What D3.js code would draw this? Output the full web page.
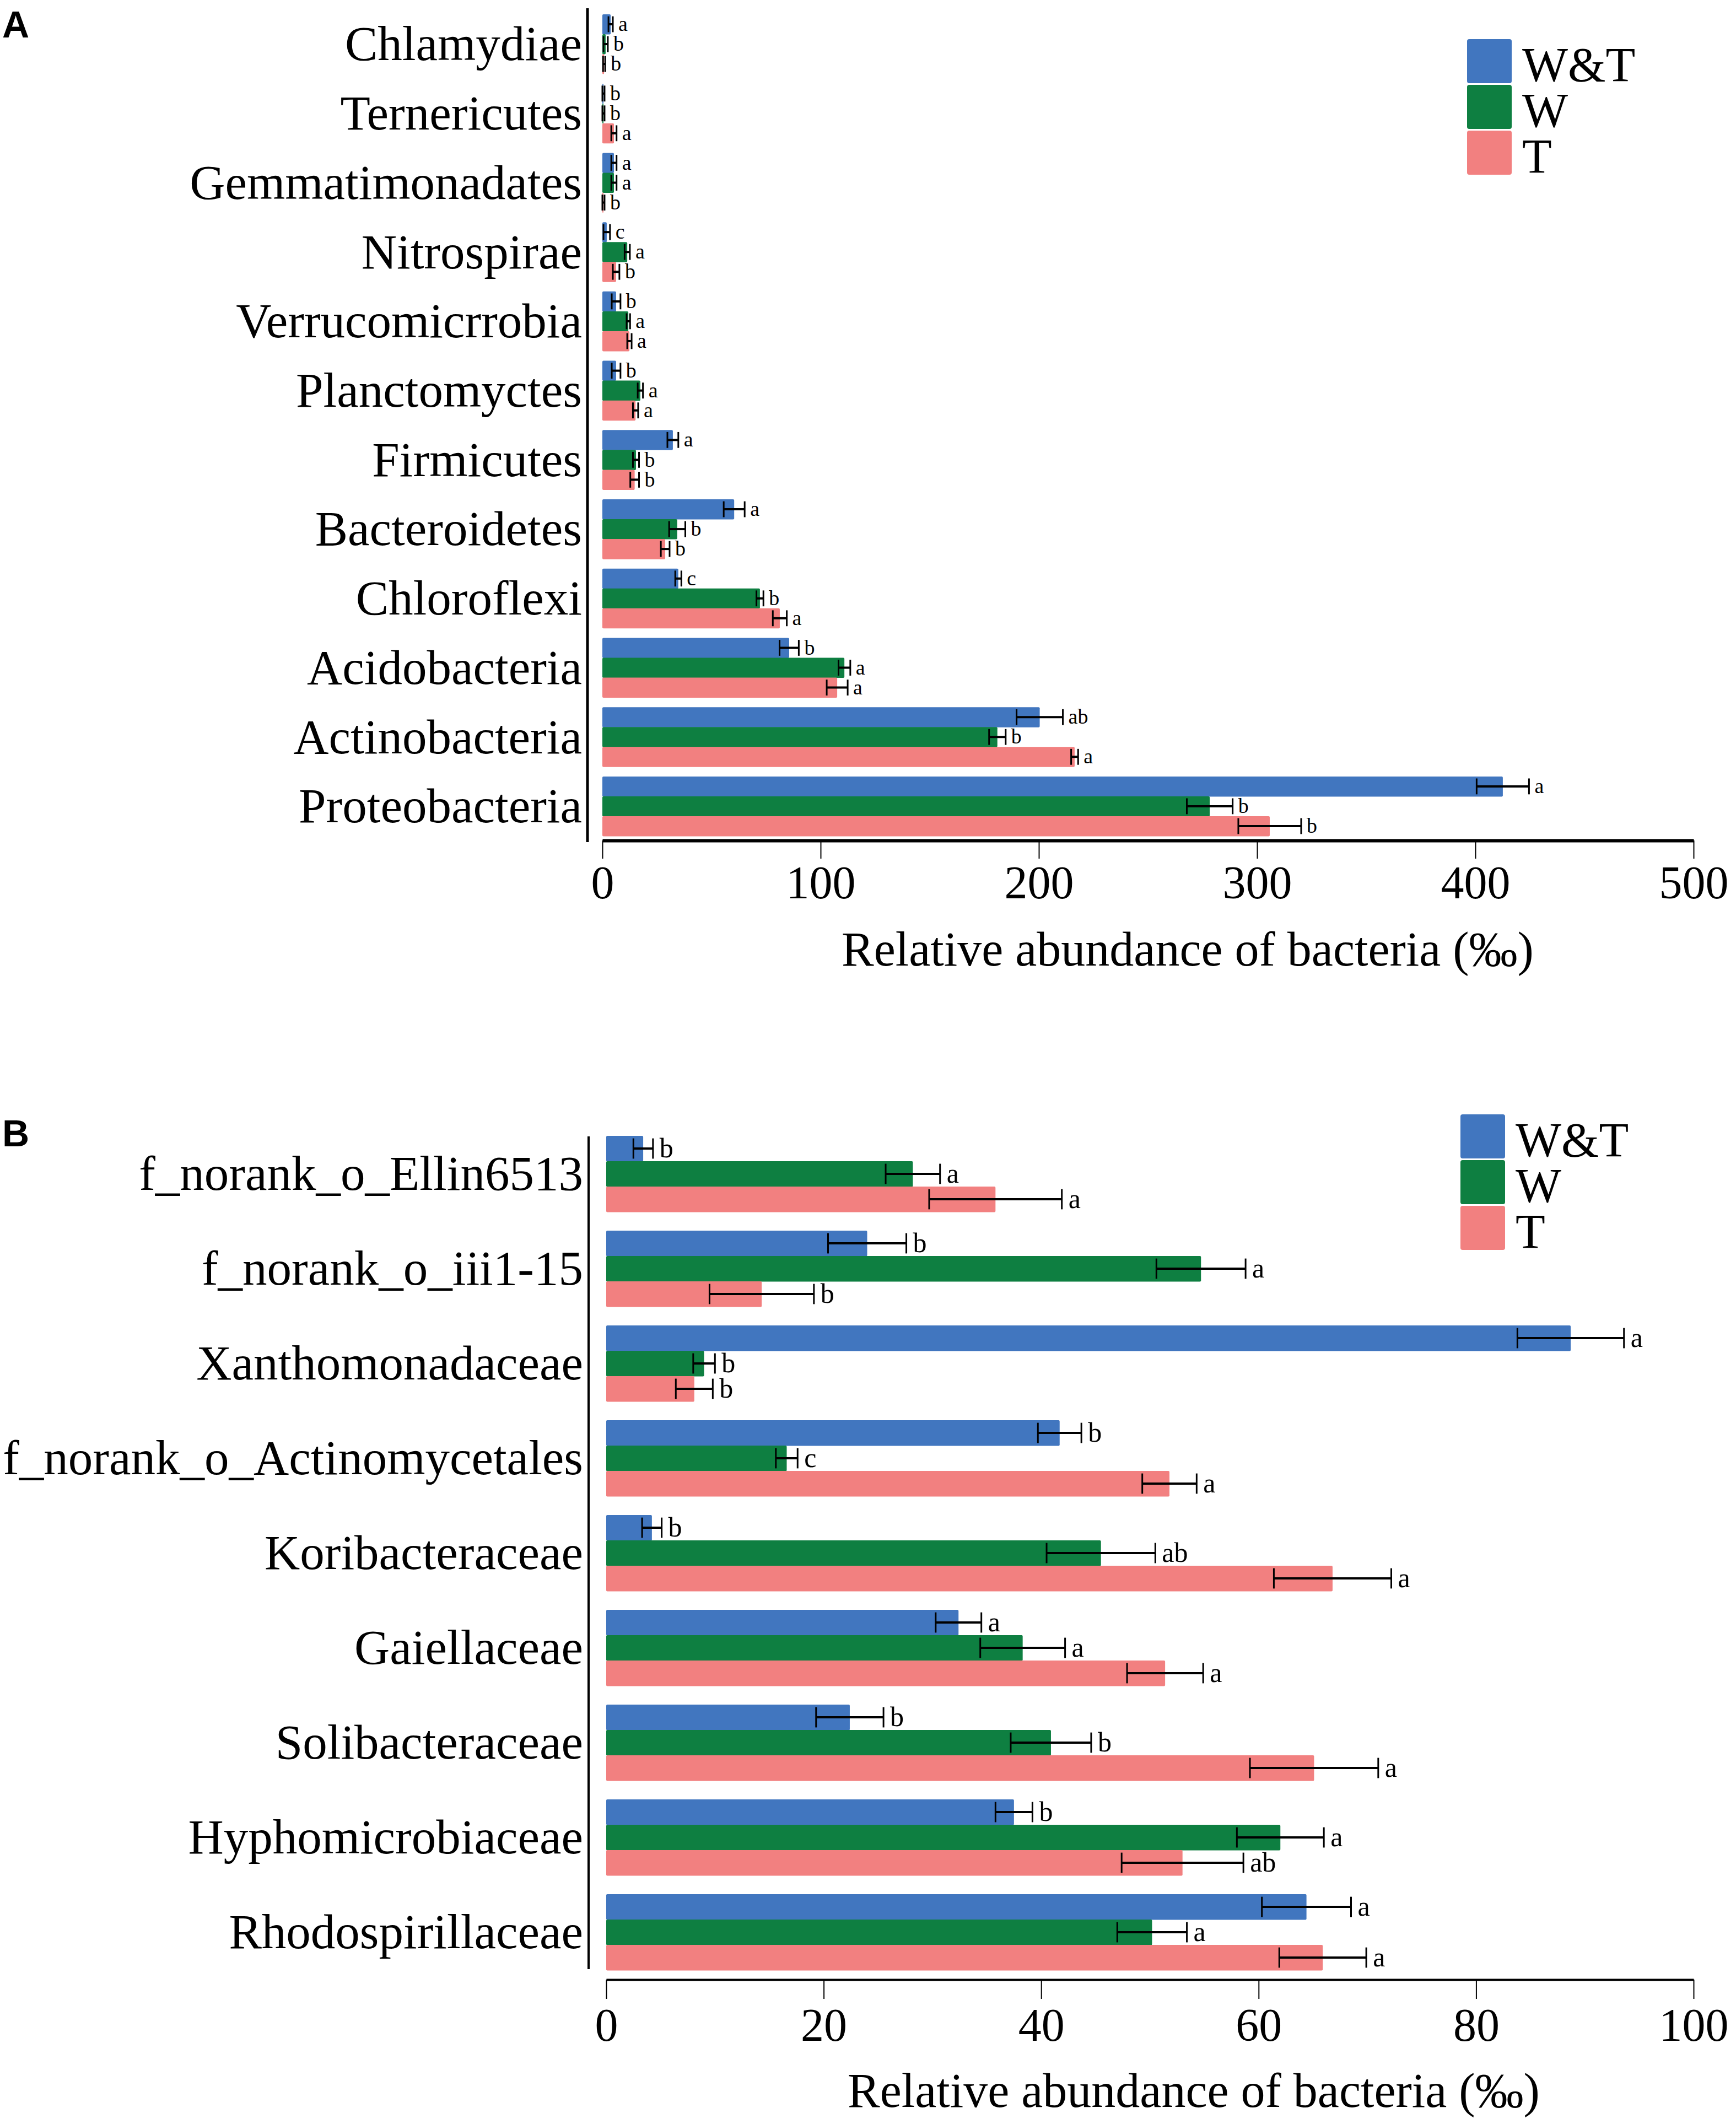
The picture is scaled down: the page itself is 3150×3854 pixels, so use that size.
<!DOCTYPE html>
<html>
<head>
<meta charset="utf-8">
<script src="https://cdn.jsdelivr.net/npm/d3@7"></script>
<style>
  body { margin: 0; background: #fff; }
  text { font-family: "Liberation Serif", "Times New Roman", serif; fill: #000; }
</style>
</head>
<body>
<div id="chart"></div>
<script>
// Groups shared by both panels
const seriesNames = ["W&T", "W", "T"];
const seriesColors = ["#4176bf", "#0e7f41", "#f28080"];

// Panel A: phyla (top to bottom)
const phylaNames = ["Chlamydiae", "Ternericutes", "Gemmatimonadates", "Nitrospirae", "Verrucomicrrobia",
    "Planctomyctes", "Firmicutes", "Bacteroidetes", "Chloroflexi", "Acidobacteria", "Actinobacteria", "Proteobacteria"];
const phylaWT   = [3.8, 0.5, 5.3, 2.0, 6.3, 6.3, 32.3, 60.4, 34.8, 85.6, 200.4, 412.6];
const phylaW    = [1.5, 0.5, 5.3, 11.4, 11.9, 17.4, 15.4, 34.3, 72.2, 110.9, 181.0, 278.3];
const phylaT    = [0.8, 5.3, 0.5, 6.3, 12.4, 15.2, 14.8, 28.8, 81.3, 107.6, 216.4, 305.8];
const phylaWTErr = [1.0, 0.5, 1.2, 1.5, 2.0, 2.0, 2.5, 4.8, 1.4, 4.4, 10.6, 12.0];
const phylaWErr  = [1.0, 0.5, 1.2, 1.2, 0.8, 1.2, 1.4, 3.7, 1.6, 2.7, 3.8, 10.5];
const phylaTErr  = [0.5, 1.2, 0.5, 1.5, 1.0, 1.2, 2.0, 2.0, 3.2, 4.8, 1.6, 14.4];
const phylaWTSig = ["a", "b", "a", "c", "b", "b", "a", "a", "c", "b", "ab", "a"];
const phylaWSig  = ["b", "b", "a", "a", "a", "a", "b", "b", "b", "a", "b", "b"];
const phylaTSig  = ["b", "a", "b", "b", "a", "a", "b", "b", "a", "a", "a", "b"];
const phylaTicks = [0, 100, 200, 300, 400, 500];

// Panel B: families (top to bottom)
const familyNames = ["f_norank_o_Ellin6513", "f_norank_o_iii1-15", "Xanthomonadaceae", "f_norank_o_Actinomycetales",
    "Koribacteraceae", "Gaiellaceae", "Solibacteraceae", "Hyphomicrobiaceae", "Rhodospirillaceae"];
const familyWT   = [3.4, 24.0, 88.7, 41.7, 4.2, 32.4, 22.4, 37.5, 64.4];
const familyW    = [28.2, 54.7, 9.0, 16.6, 45.5, 38.3, 40.9, 62.0, 50.2];
const familyT    = [35.8, 14.3, 8.1, 51.8, 66.8, 51.4, 65.1, 53.0, 65.9];
const familyWTErr = [0.9, 3.6, 4.9, 2.0, 0.9, 2.1, 3.1, 1.7, 4.1];
const familyWErr  = [2.5, 4.1, 1.0, 1.0, 5.0, 3.9, 3.7, 4.0, 3.2];
const familyTErr  = [6.1, 4.8, 1.7, 2.5, 5.4, 3.5, 5.9, 5.6, 4.0];
const familyWTSig = ["b", "b", "a", "b", "b", "a", "b", "b", "a"];
const familyWSig  = ["a", "a", "b", "c", "ab", "a", "b", "a", "a"];
const familyTSig  = ["a", "b", "b", "a", "a", "a", "a", "ab", "a"];
const familyTicks = [0, 20, 40, 60, 80, 100];

const axisTitle = "Relative abundance of bacteria (\u2030)";

const width = 3150, height = 3854;
const svg = d3.select("#chart").append("svg")
    .attr("width", width)
    .attr("height", height);

function buildRows(names, means, errs, sigs) {
    return names.map((name, i) => ({
        name: name,
        values: seriesNames.map((s, k) => ({ series: s, k: k, mean: means[k][i], err: errs[k][i], sig: sigs[k][i] }))
    }));
}

function drawPanel(rows, cfg) {
    const g = svg.append("g");

    const x = d3.scaleLinear().domain([0, cfg.xMax]).range([cfg.x0, cfg.x1]);
    const y = d3.scaleBand().domain(rows.map(d => d.name)).range([cfg.top, cfg.bottom]).paddingInner(cfg.pad);
    const ySub = d3.scaleBand().domain(seriesNames).range([0, y.bandwidth()]);

    // Groups
    const groups = g.selectAll(".grp")
        .data(rows)
        .enter()
        .append("g")
        .attr("transform", d => `translate(0,${y(d.name)})`);

    // Bars
    groups.selectAll("rect")
        .data(d => d.values)
        .enter()
        .append("rect")
        .attr("x", x(0))
        .attr("y", d => ySub(d.series))
        .attr("width", d => x(d.mean) - x(0))
        .attr("height", ySub.bandwidth() + 0.5)
        .attr("rx", 2)
        .attr("fill", d => seriesColors[d.k]);

    // Error bars
    const capH = ySub.bandwidth() * 0.8;
    const eb = groups.selectAll(".eb")
        .data(d => d.values)
        .enter()
        .append("g")
        .attr("transform", d => `translate(0,${ySub(d.series) + ySub.bandwidth() / 2})`);
    eb.append("line")
        .attr("x1", d => x(Math.max(0, d.mean - d.err)))
        .attr("x2", d => x(d.mean + d.err))
        .attr("stroke", "#000")
        .attr("stroke-width", cfg.ebWidth);
    eb.append("line")
        .attr("x1", d => x(Math.max(0, d.mean - d.err)))
        .attr("x2", d => x(Math.max(0, d.mean - d.err)))
        .attr("y1", -capH / 2)
        .attr("y2", capH / 2)
        .attr("stroke", "#000")
        .attr("stroke-width", 3);
    eb.append("line")
        .attr("x1", d => x(d.mean + d.err))
        .attr("x2", d => x(d.mean + d.err))
        .attr("y1", -capH / 2)
        .attr("y2", capH / 2)
        .attr("stroke", "#000")
        .attr("stroke-width", 3);

    // Significance letters
    eb.append("text")
        .attr("x", d => x(d.mean + d.err) + cfg.sigGap)
        .attr("dy", "0.32em")
        .style("font-size", cfg.sigSize + "px")
        .text(d => d.sig);

    // Category labels
    g.selectAll(".lbl")
        .data(rows)
        .enter()
        .append("text")
        .attr("x", cfg.labelX)
        .attr("y", d => y(d.name) + y.bandwidth() / 2)
        .attr("dy", "0.33em")
        .attr("text-anchor", "end")
        .style("font-size", "89px")
        .text(d => d.name);

    // Y axis line
    g.append("line")
        .attr("x1", cfg.yAxisX).attr("x2", cfg.yAxisX)
        .attr("y1", cfg.yLineTop).attr("y2", cfg.yLineBottom)
        .attr("stroke", "#000")
        .attr("stroke-width", cfg.yAxisWidth);

    // X axis
    const xAxis = g.append("g")
        .attr("transform", `translate(0,${cfg.axisY})`)
        .call(d3.axisBottom(x).tickValues(cfg.ticks).tickSize(cfg.tickLen).tickSizeOuter(0).tickPadding(cfg.tickPad));
    xAxis.select(".domain").attr("stroke", "#000").attr("stroke-width", cfg.axisWidth);
    xAxis.selectAll(".tick line").attr("stroke", "#000").attr("stroke-width", 2);
    xAxis.selectAll(".tick text")
        .style("font-family", '"Liberation Serif", "Times New Roman", serif')
        .style("font-size", "84px")
        .attr("fill", "#000");

    // Axis title
    g.append("text")
        .attr("x", cfg.titleX)
        .attr("y", cfg.titleY)
        .attr("text-anchor", "middle")
        .style("font-size", "88px")
        .text(axisTitle);

    // Legend
    const leg = g.append("g").attr("transform", `translate(${cfg.legX},${cfg.legY})`);
    seriesNames.forEach((s, k) => {
        leg.append("rect")
            .attr("x", 0)
            .attr("y", k * 83)
            .attr("width", 81)
            .attr("height", 80)
            .attr("rx", 4)
            .attr("fill", seriesColors[k]);
        leg.append("text")
            .attr("x", 100)
            .attr("y", k * 83 + 76)
            .style("font-size", "88px")
            .text(s);
    });

    // Panel letter
    g.append("text")
        .attr("x", 4)
        .attr("y", cfg.letterY)
        .style("font-family", '"Liberation Sans", Arial, sans-serif')
        .style("font-weight", "bold")
        .style("font-size", "68px")
        .text(cfg.letter);
}

const phylaRows = buildRows(phylaNames,
    [phylaWT, phylaW, phylaT], [phylaWTErr, phylaWErr, phylaTErr], [phylaWTSig, phylaWSig, phylaTSig]);
const familyRows = buildRows(familyNames,
    [familyWT, familyW, familyT], [familyWTErr, familyWErr, familyTErr], [familyWTSig, familyWSig, familyTSig]);

drawPanel(phylaRows, {
    letter: "A", letterY: 68,
    xMax: 500, ticks: phylaTicks, x0: 1093, x1: 3073,
    top: 26, bottom: 1517, pad: 0.14,
    axisY: 1525, axisWidth: 6, tickLen: 33, tickPad: 12,
    yAxisX: 1066, yLineTop: 15, yLineBottom: 1528, yAxisWidth: 5,
    labelX: 1056, sigSize: 38, sigGap: 10, ebWidth: 4,
    titleX: 2155, titleY: 1752,
    legX: 2662, legY: 71
});

drawPanel(familyRows, {
    letter: "B", letterY: 2080,
    xMax: 100, ticks: familyTicks, x0: 1100, x1: 3073,
    top: 2061, bottom: 3575, pad: 0.198,
    axisY: 3592, axisWidth: 4, tickLen: 35, tickPad: 16,
    yAxisX: 1068, yLineTop: 2062, yLineBottom: 3573, yAxisWidth: 4,
    labelX: 1058, sigSize: 50, sigGap: 12, ebWidth: 4,
    titleX: 2166, titleY: 3823,
    legX: 2650, legY: 2022
});
</script>
</body>
</html>
